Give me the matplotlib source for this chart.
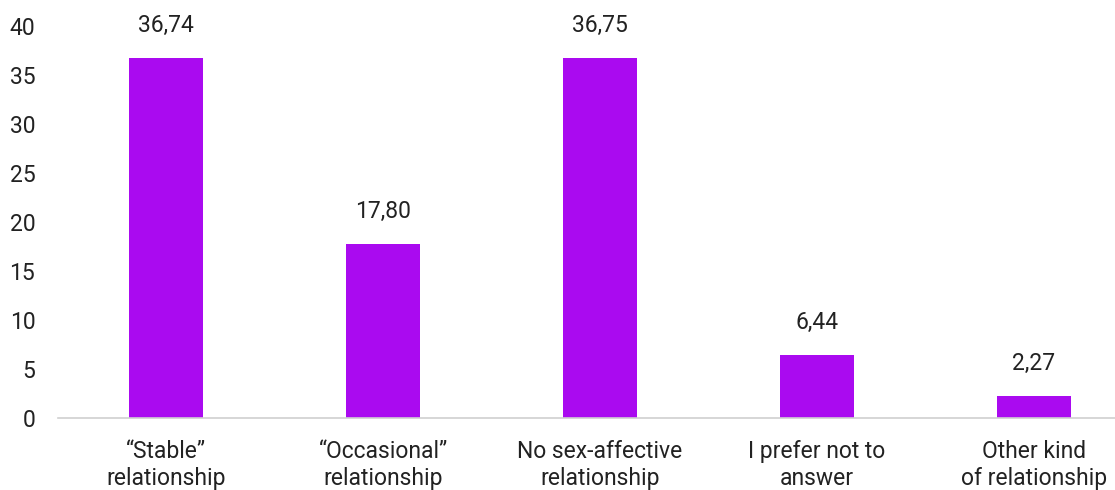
import matplotlib
matplotlib.use('Agg')
import matplotlib.pyplot as plt

# dados do gráfico
categorias = ['\u201cStable\u201d\nrelationship', '\u201cOccasional\u201d\nrelationship',
              'No sex-affective\nrelationship', 'I prefer not to\nanswer',
              'Other kind\nof relationship']
valores = [36.74, 17.80, 36.75, 6.44, 2.27]
rotulos = ['36,74', '17,80', '36,75', '6,44', '2,27']

plt.rcParams['font.family'] = ['Roboto', 'DejaVu Sans']

fig = plt.figure(figsize=(11.15, 4.9), dpi=100)
ax = fig.add_axes([0.0516, 0.147, 0.973, 0.80])

x = range(len(valores))
barras = ax.bar(x, valores, width=0.345, color='#AA0AF0')

for b, r in zip(barras, rotulos):
    ax.text(b.get_x() + b.get_width() / 2, b.get_height() + 2.1, r,
            ha='center', va='bottom', fontsize=16.5, color='#222222')

ax.set_xlim(-0.5, 4.5)
ax.set_ylim(0, 40)
ax.set_yticks(range(0, 41, 5))
ax.set_xticks(list(x))
ax.set_xticklabels(categorias, fontsize=16.5, color='#222222', linespacing=1.2)
ax.tick_params(axis='y', labelsize=16.5, labelcolor='#222222', length=0, pad=16)
ax.tick_params(axis='x', length=0, pad=16)

for s in ['top', 'right', 'left']:
    ax.spines[s].set_visible(False)
ax.spines['bottom'].set_color('#d0d0d0')
ax.spines['bottom'].set_linewidth(1.2)

fig.savefig('out.png', dpi=100)
